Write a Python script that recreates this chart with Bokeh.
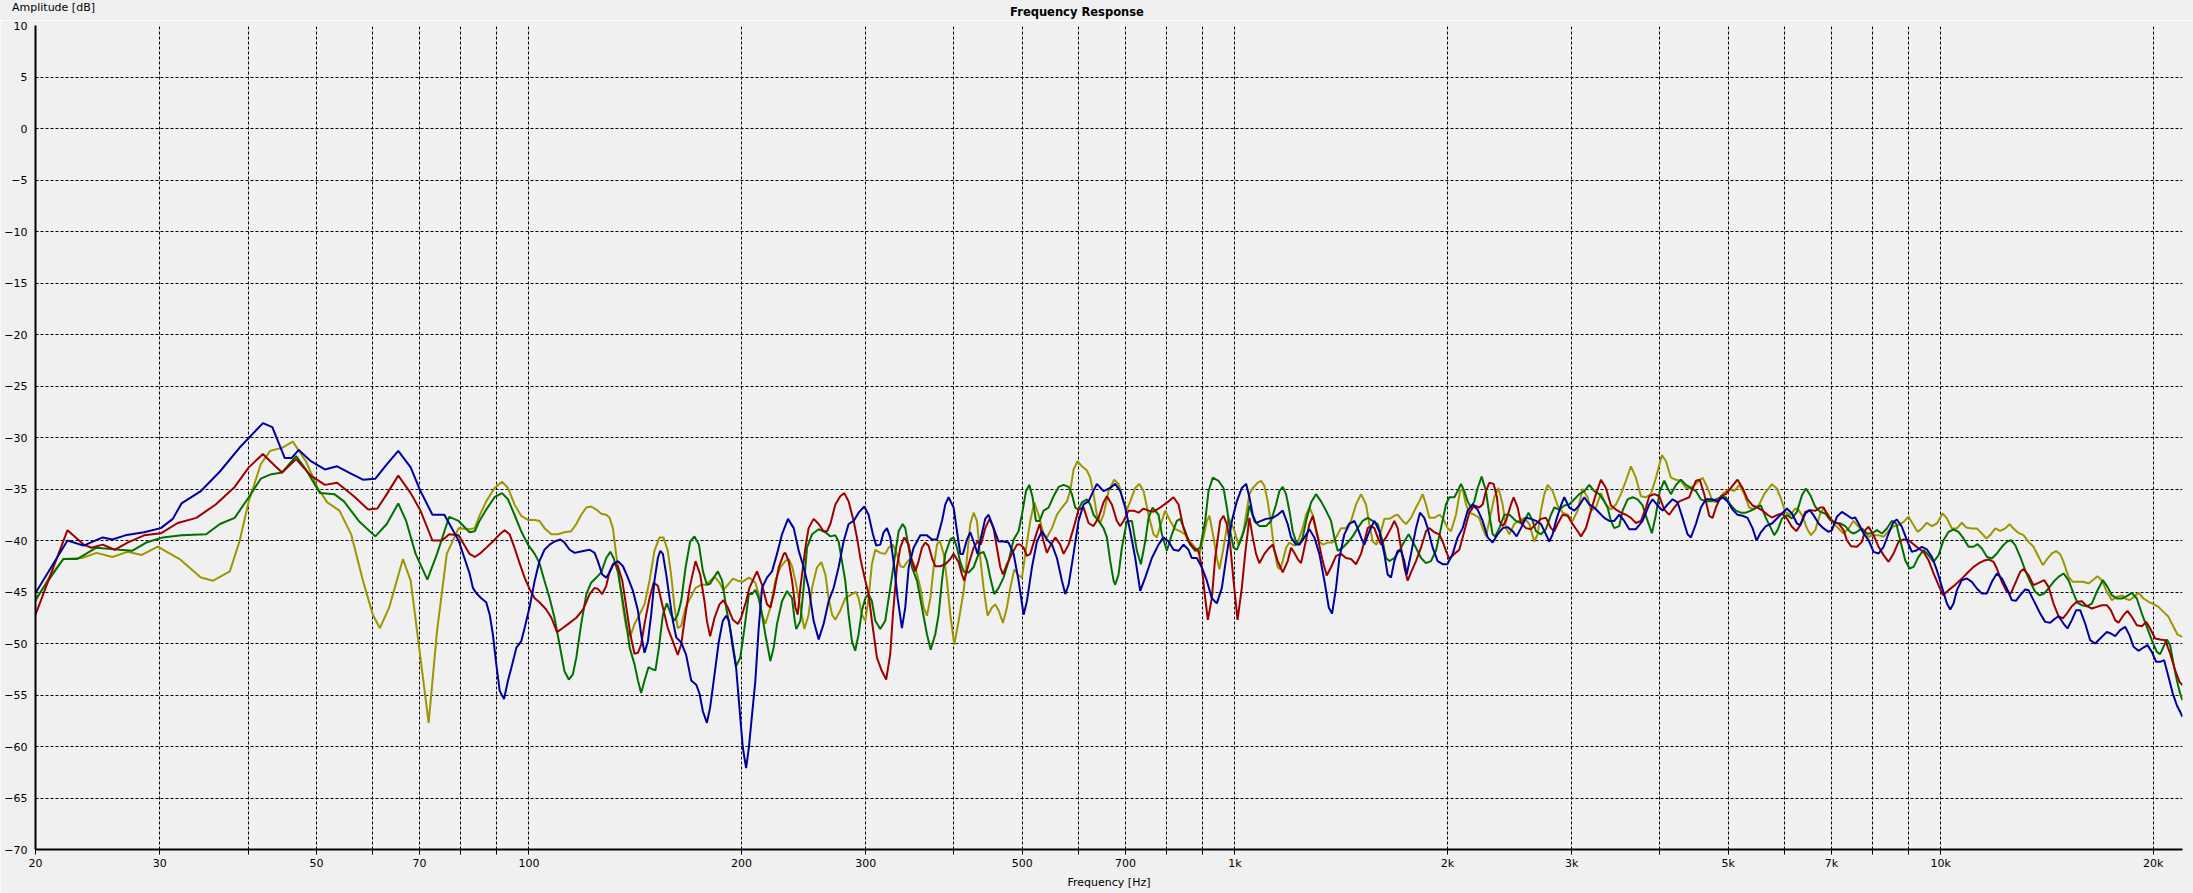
from bokeh.plotting import figure
from bokeh.models import FixedTicker, Div
from bokeh.layouts import column
from bokeh.embed import file_html
from bokeh.resources import INLINE

# ---------------- data: (frequency [Hz], amplitude [dB]) ----------------
blue_pts = [
    (20, -45.1), (22.2, -40.0), (23.4, -40.5), (24.9, -39.7), (25.7, -39.9), (26.8, -39.5), (28.5, -39.2), (30.1, -38.8), (31.3, -37.9), (32.2, -36.4),
    (34.3, -35.2), (36.5, -33.3), (38.9, -31.0), (42.0, -28.6), (43.3, -29.0), (45.1, -32.0), (46.1, -32.0), (47.2, -31.2), (49.1, -32.3), (51.4, -33.1),
    (53.5, -32.8), (55.6, -33.4), (58.2, -34.1), (60.6, -34.0), (62.9, -32.6), (65.3, -31.3), (68.0, -32.9), (70.2, -35.2), (73.0, -37.5), (75.9, -37.5),
    (79.5, -40.0),
    (82.4, -43.2), (83.3, -44.6), (84.2, -45.1), (85.6, -45.6), (87.0, -46.0), (88.0, -47.2), (88.9, -49.1), (89.9, -52.0), (90.9, -54.6), (92.2, -55.4),
    (93.4, -53.6), (94.4, -52.4), (96.0, -50.4), (97.5, -49.8), (98.6, -48.5), (100.2, -46.5), (101.9, -43.9), (103.5, -42.0), (105.2, -40.9), (107.0, -40.4),
    (108.7, -40.1), (110.8, -39.9), (112.3, -40.2), (114.2, -40.9), (116.1, -41.2), (118.0, -41.1), (119.9, -41.0), (121.9, -40.9), (123.9, -41.2), (125.2, -42.0),
    (127.0, -43.3), (128.7, -43.6), (130.1, -43.1), (131.8, -42.3), (133.7, -42.0), (135.9, -42.5), (138.1, -43.6), (140.4, -44.9), (142.7, -46.8), (144.2, -49.1),
    (145.8, -50.9), (147.4, -49.8), (149.0, -47.2), (150.6, -43.9), (152.3, -41.7), (153.5, -41.0), (154.8, -41.3), (156.5, -43.3), (158.2, -45.6), (159.9, -47.8),
    (161.7, -49.4), (164.3, -49.9), (167.0, -51.1), (169.8, -53.6), (172.6, -54.0), (174.5, -54.9), (176.4, -56.6), (178.7, -57.7), (180.6, -56.2), (183.2, -53.0),
    (185.8, -49.8), (188.2, -47.8), (190.3, -47.3), (192.0, -47.8), (194.5, -50.4), (196.6, -52.4), (198.7, -56.2), (200.9, -60.1), (203.1, -62.1), (204.9, -60.1),
    (209.3, -53.6), (211.6, -48.5), (213.9, -44.6), (217.4, -43.6), (221.0, -43.0), (224.6, -41.3), (228.3, -39.4), (232.8, -37.9), (237.2, -38.8), (241.1, -41.0),
    (245.0, -42.6), (249.1, -44.6), (253.1, -47.8), (257.3, -49.6), (261.5, -48.1), (265.8, -45.9), (270.2, -44.6), (274.6, -42.6), (279.1, -40.1), (283.7, -38.4),
    (288.4, -38.1), (293.1, -37.3), (298.6, -36.7), (302.8, -37.5), (307.1, -39.4), (310.5, -40.5), (314.6, -40.4), (318.0, -39.2), (321.5, -38.8), (325.0, -39.7),
    (329.3, -42.6), (332.9, -45.6), (337.6, -48.5), (341.3, -46.5), (345.1, -42.6), (350.7, -40.7), (358.5, -39.5), (366.3, -39.5), (372.4, -39.9), (378.5, -39.9),
    (384.7, -38.1), (388.9, -36.5), (393.1, -35.8), (399.6, -36.8), (404.0, -39.1), (408.4, -41.3), (412.0, -41.3), (417.4, -39.9), (421.9, -39.2), (426.5, -40.1),
    (432.1, -41.3), (436.8, -39.7), (443.0, -37.9), (447.9, -37.5), (455.2, -38.8), (462.8, -40.1), (470.3, -40.1), (478.1, -40.2), (486.0, -41.3), (493.9, -43.9),
    (502.1, -47.2), (507.5, -45.9), (515.9, -42.6), (524.4, -40.1), (533.0, -39.1), (541.8, -39.9), (550.7, -40.4), (559.7, -41.7), (568.9, -43.9), (575.2, -45.2),
    (581.4, -44.3), (590.9, -41.3), (600.6, -38.1), (610.5, -36.5), (620.5, -36.2), (627.3, -35.5), (637.6, -34.5), (651.6, -35.2), (666.0, -34.9), (677.0, -34.5),
    (688.1, -35.2), (699.4, -36.8), (710.9, -39.1), (722.6, -41.7), (734.4, -44.9), (746.5, -43.6), (762.9, -41.7), (779.6, -40.4), (792.5, -39.7), (805.5, -40.1),
    (818.7, -40.9), (832.2, -41.0), (845.8, -40.4), (859.7, -40.9), (869.1, -41.7), (883.5, -41.7), (897.9, -42.6), (912.7, -43.9), (927.7, -45.6), (943.0, -46.1),
    (958.5, -44.6), (974.2, -41.3), (990.3, -38.1), (1006.5, -36.2), (1023.0, -34.9), (1037.5, -34.5),
    (1048.6, -35.8), (1060.1, -37.5), (1071.6, -38.3), (1089.3, -38.1), (1107.2, -37.9), (1131.6, -37.8), (1150.1, -37.5), (1169.0, -37.1), (1188.2, -38.4), (1201.2, -39.7),
    (1221.0, -40.4), (1234.3, -40.4), (1254.6, -39.7), (1275.3, -38.9), (1296.2, -39.7), (1317.4, -41.3), (1339.1, -43.9), (1358.5, -46.5), (1373.2, -47.1), (1391.1, -44.6),
    (1406.3, -41.7), (1429.4, -39.4), (1452.8, -38.4), (1476.7, -38.1), (1492.8, -38.8), (1509.1, -39.7), (1525.6, -40.4), (1550.7, -39.1), (1576.3, -38.1), (1602.1, -39.1),
    (1628.4, -41.3), (1646.2, -43.3), (1664.2, -43.6), (1682.4, -42.0), (1700.8, -41.0), (1719.4, -41.0), (1738.1, -42.0), (1751.6, -43.3), (1776.4, -41.3), (1805.5, -38.8),
    (1829.2, -37.3), (1855.2, -37.8), (1875.5, -38.8), (1906.4, -40.7), (1937.7, -42.0), (1969.6, -42.3), (2000, -42.3), (2034.9, -41.3), (2068.4, -39.7), (2102.4, -38.8),
    (2136.9, -37.1), (2172.1, -36.5), (2207.7, -37.0), (2244, -38.1), (2280.9, -39.7), (2318.4, -40.2), (2356.5, -39.4), (2395.2, -38.8), (2434.7, -38.7), (2474.7, -39.1),
    (2507.1, -39.6), (2542.7, -38.8), (2584.5, -37.8), (2627.0, -37.9), (2670.2, -38.1), (2714.2, -38.4), (2758.8, -39.4), (2788.9, -40.1), (2819.4, -39.4), (2850.2, -38.1),
    (2897.1, -36.6), (2928.7, -35.8), (2976.9, -36.8), (3026.0, -37.1), (3075.6, -36.6), (3125.9, -35.8), (3177.3, -36.5), (3229.6, -36.8), (3282.7, -37.3), (3336.6, -37.8),
    (3391.6, -38.1), (3447.3, -38.1), (3503.9, -37.5), (3561.5, -38.1), (3620.0, -38.9), (3699.6, -38.9), (3781.1, -38.1), (3864, -36.5), (3906.2, -36.0), (3970.5, -36.6),
    (4035.7, -37.1), (4102.0, -36.5), (4169.6, -36.0), (4238.0, -36.3), (4307.6, -37.8), (4378.4, -39.4), (4426.3, -39.7), (4499.0, -38.4), (4573.0, -36.8), (4648.3, -36.0),
    (4750.4, -36.0), (4828.2, -36.2), (4907.5, -35.8), (4988.2, -36.2), (5070.2, -37.0), (5153.5, -37.5), (5238.5, -37.6), (5324.4, -37.8), (5412.1, -38.8), (5483.3, -40.0),
    (5561.2, -39.2), (5652.7, -38.6),
    (5765, -38.35), (5860, -37.86), (5957, -37.38), (6054, -36.89), (6154, -37.38), (6256, -38.35), (6324, -38.51), (6428, -37.38), (6520, -37.05), (6605, -37.54),
    (6713, -38.35), (6823, -38.83), (6935, -39.16), (7011, -38.99), (7126, -37.70), (7243, -37.22), (7363, -37.54), (7483, -37.86), (7565, -37.77), (7648, -38.35),
    (7774, -39.32), (7902, -39.97), (8032, -41.10), (8164, -41.26), (8298, -40.61), (8435, -39.32), (8573, -38.19), (8666, -37.96), (8809, -38.67), (8954, -39.97),
    (9101, -41.10), (9251, -40.94), (9403, -40.61), (9557, -40.87), (9714, -41.58), (9874, -42.88), (10036, -44.50), (10202, -46.12), (10313, -46.70), (10426, -46.12),
    (10539, -44.82), (10712, -43.85), (10888, -43.69), (11067, -44.01), (11249, -44.66), (11435, -45.14), (11622, -45.14), (11813, -44.01), (12007, -43.20), (12205, -43.69),
    (12405, -44.66), (12609, -45.79), (12775, -45.86), (12957, -45.31), (13169, -44.76), (13313, -44.82), (13532, -45.79), (13830, -47.09), (14057, -47.90), (14289, -47.99),
    (14523, -47.57), (14682, -47.35), (14923, -48.06), (15116, -48.54), (15334, -47.73), (15553, -46.76), (15757, -46.76), (16016, -48.06), (16279, -49.68), (16547, -50.00),
    (16819, -49.51), (17188, -48.87), (17414, -49.03), (17663, -49.29), (17952, -48.70), (18247, -48.38), (18506, -49.19), (18750, -50.32), (19058, -50.71), (19371, -50.39),
    (19625, -50.16), (19905, -50.81), (20188, -51.78), (20452, -51.78), (20721, -51.62), (21016, -53.24), (21314, -54.85), (21595, -55.99), (21831, -56.63), (21997, -57.12),
]

red_pts = [
    (20, -47.2), (21.2, -42.6), (22.2, -39.0), (23.4, -40.4), (24.0, -40.7), (24.9, -40.4), (25.9, -40.9), (27.0, -40.2), (28.5, -39.5), (30.1, -39.3),
    (31.8, -38.3), (33.8, -37.8), (36.0, -36.5), (38.3, -34.8), (40.1, -32.9), (42.0, -31.6), (43.0, -32.3), (44.7, -33.4), (46.8, -32.1), (49.1, -33.7),
    (51.4, -34.6), (53.5, -34.4), (56.5, -35.7), (59.2, -37.0), (61.0, -36.9), (62.9, -35.5), (65.3, -33.7), (68.0, -35.4), (70.2, -37.1), (73.0, -40.0),
    (75.3, -40.0), (77.1, -39.4), (79.5, -39.5),
    (82.4, -41.3), (83.8, -41.6), (85.1, -41.3), (87.0, -40.7), (88.9, -40.1), (90.9, -39.4), (92.4, -39.0), (93.9, -39.4), (95.4, -40.7), (97.0, -42.2),
    (98.6, -43.6), (100.2, -44.7), (101.9, -45.6), (103.5, -46.0), (105.8, -46.7), (107.6, -47.5), (109.6, -48.9), (111.7, -48.5), (114.2, -48.0), (116.7, -47.5),
    (119.3, -46.7), (121.9, -45.2), (123.9, -44.6), (125.2, -44.7), (127.0, -45.2), (128.7, -44.4), (130.1, -43.0), (131.8, -42.2), (133.7, -42.5), (135.6, -43.9),
    (137.4, -46.5), (139.2, -49.1), (141.1, -51.0), (142.7, -50.9), (144.2, -50.1), (145.8, -48.1), (148.2, -45.6), (150.2, -44.1), (152.3, -44.4), (154.8, -46.5),
    (157.3, -48.5), (159.9, -49.8), (162.5, -51.1), (164.3, -50.1), (166.1, -47.8), (168.9, -44.6), (172.2, -42.0), (174.8, -43.3), (177.3, -45.9), (178.7, -47.8),
    (180.6, -49.3), (183.2, -47.5), (186.2, -46.2), (188.6, -45.8), (191.3, -46.5), (194.5, -47.7), (197.7, -48.1), (199.8, -47.5), (203.1, -45.9), (205.3, -44.6),
    (210.4, -43.0), (213.9, -44.3), (217.4, -46.2), (219.8, -46.5), (222.2, -45.2), (225.9, -42.6), (229.6, -41.3),
    (230.8, -41.2), (233.3, -42.0), (235.9, -43.9), (238.5, -46.5), (240.3, -47.2), (242.4, -44.6), (246.4, -40.7), (249.0, -38.8), (253.1, -37.9), (257.3, -38.4),
    (261.5, -39.1), (264.4, -39.1), (267.3, -38.4), (271.7, -36.5), (276.1, -35.7), (279.7, -35.4), (283.7, -36.2), (288.4, -38.1), (291.5, -39.7), (295.3, -42.0),
    (299.6, -43.9), (302.8, -45.2), (306.1, -47.8), (311.2, -51.4), (316.3, -52.7), (320.7, -53.5), (325.0, -51.0), (327.8, -47.2), (329.3, -45.6), (332.1, -42.6),
    (335.8, -40.7), (340.2, -39.7), (345.1, -40.4), (348.8, -42.0), (352.7, -43.0), (356.5, -42.0), (360.4, -40.7), (364.3, -40.2), (368.3, -40.5), (372.4, -41.7),
    (376.4, -42.5), (382.6, -42.5), (388.9, -42.3), (395.3, -41.8), (399.6, -41.3), (406.2, -42.1), (410.6, -43.3), (413.7, -43.9), (419.6, -42.3), (426.5, -40.7),
    (432.1, -40.1), (436.8, -40.4), (443.0, -38.8), (449.3, -37.9), (455.2, -38.8), (460.2, -40.7), (465.3, -42.6), (469.3, -43.3), (475.5, -42.3), (483.3, -41.3),
    (491.3, -40.4), (496.6, -40.4), (502.1, -40.7), (507.5, -41.5), (513.1, -41.3), (521.5, -39.7), (529.0, -38.4), (535.9, -40.1), (541.8, -41.2), (547.7, -40.5),
    (556.7, -39.7), (565.8, -40.4), (572.0, -41.3), (581.4, -40.4), (590.9, -38.8), (600.6, -37.0), (610.5, -36.8), (620.5, -38.3), (630.7, -38.6), (641.1, -37.8),
    (651.6, -36.3), (658.8, -35.7), (669.6, -36.5), (680.6, -38.1), (688.1, -38.6), (695.6, -38.1), (707.0, -37.1), (718.7, -37.1), (730.5, -37.3), (742.4, -36.9),
    (754.6, -37.1), (767.0, -37.2), (783.9, -36.8), (805.5, -36.2), (818.7, -35.8), (832.2, -36.5), (845.8, -38.8), (859.7, -40.1), (873.9, -40.7), (888.3, -41.0),
    (897.9, -42.6), (907.8, -45.6), (915.7, -47.7), (927.7, -45.6), (937.8, -41.7), (953.3, -38.1), (963.7, -37.6), (974.2, -38.4), (984.9, -40.4), (995.7, -43.9),
    (1008.8, -47.7), (1023.0, -44.6), (1034.2, -41.3),
    (1048.6, -37.8), (1060.1, -39.7), (1071.6, -41.3), (1083.4, -42.2), (1101.2, -41.3), (1119.3, -40.7), (1131.6, -40.4), (1150.1, -42.0), (1169.0, -43.1), (1188.2, -42.0),
    (1201.2, -40.7), (1214.3, -41.2), (1227.6, -41.8), (1241.0, -42.2), (1254.6, -40.7), (1275.3, -38.4), (1289.2, -37.6), (1310.3, -39.7), (1331.8, -42.0), (1349.5, -43.4),
    (1368.5, -42.6), (1391.1, -41.5), (1414.0, -41.3), (1437.2, -41.7), (1460.7, -41.8), (1484.7, -42.3), (1509.1, -41.3), (1525.6, -40.1), (1542.3, -38.8), (1559.1, -38.6),
    (1576.3, -38.8), (1593.4, -39.7), (1610.9, -40.4), (1637.3, -39.7), (1664.2, -38.8), (1682.4, -38.1), (1700.8, -38.8), (1719.4, -40.7), (1738.1, -42.6), (1757.3, -43.9),
    (1776.4, -43.1), (1805.5, -42.0), (1835.2, -40.7), (1865.4, -39.1), (1885.7, -38.8), (1916.7, -39.2), (1948.3, -39.4), (1969.6, -40.1), (1991.1, -41.0), (2012.9, -41.8),
    (2046.0, -41.3), (2079.6, -40.9), (2113.8, -39.1), (2148.6, -37.3), (2184.0, -36.6), (2219.8, -36.8), (2244, -36.5), (2268.5, -35.2), (2293.3, -34.4), (2325.7, -34.5),
    (2351.1, -35.8), (2369.3, -38.1), (2395.2, -38.6), (2421.5, -38.1), (2461.2, -36.5), (2483.0, -35.8), (2515.2, -36.8), (2542.7, -38.3), (2584.5, -38.8), (2627.0, -38.9),
    (2670.2, -38.4), (2714.2, -37.9), (2758.8, -37.8), (2804.1, -38.8), (2834.7, -39.1), (2865.7, -38.4), (2912.8, -37.5), (2960.7, -37.6), (3009.5, -38.4), (3058.9, -39.1),
    (3092.3, -39.6), (3143.0, -38.8), (3194.6, -37.1), (3247.2, -35.5), (3300.5, -34.1), (3354.9, -34.9), (3410.0, -36.6), (3466, -37.0), (3523.0, -37.3), (3580.9, -37.5),
    (3639.8, -37.8), (3699.6, -38.3), (3760.6, -38.1), (3822.3, -36.8), (3864, -35.7), (3927.5, -35.5), (3992.1, -35.7), (4057.7, -37.0), (4124.4, -37.5), (4192.4, -36.8),
    (4261.2, -36.2), (4331.1, -36.0), (4402.3, -35.8), (4499.0, -34.2), (4555.7, -34.1), (4622.9, -35.5), (4699.2, -37.6), (4750.4, -37.8), (4802, -36.8), (4881.0, -35.7),
    (4961.2, -35.5), (5042.8, -34.9), (5153.5, -34.1), (5238.5, -34.9), (5324.4, -36.0), (5412.1, -36.6), (5501.1, -36.8), (5591.5, -37.1), (5683.4, -37.5),
    (5765, -37.77), (5860, -37.54), (5957, -37.38), (6054, -37.86), (6154, -38.67), (6242, -39.09), (6324, -38.51), (6428, -37.22), (6534, -37.05), (6641, -37.12),
    (6750, -36.80), (6823, -36.80), (6935, -37.70), (7049, -38.19), (7165, -38.35), (7283, -38.99), (7363, -39.97), (7461, -40.55), (7607, -40.61), (7732, -40.13),
    (7817, -38.99), (7902, -38.67), (8032, -39.48), (8164, -40.61), (8298, -41.42), (8435, -42.07), (8573, -41.26), (8714, -40.13), (8857, -39.90), (9002, -39.97),
    (9151, -40.36), (9301, -40.78), (9454, -41.10), (9609, -41.91), (9767, -43.20), (9928, -44.34), (10069, -45.31), (10258, -44.82), (10426, -44.43), (10596, -44.01),
    (10771, -43.53), (10948, -43.04), (11128, -42.56), (11310, -42.23), (11497, -41.97), (11686, -41.84), (11877, -42.07), (12007, -42.72), (12205, -44.01), (12405, -44.98),
    (12568, -45.14), (12748, -44.17), (12957, -43.04), (13098, -42.78), (13313, -43.36), (13532, -44.34), (13755, -44.11), (14011, -43.85), (14211, -44.50), (14445, -46.12),
    (14682, -47.35), (14890, -47.57), (15086, -47.09), (15334, -46.38), (15586, -45.95), (15843, -45.89), (16103, -46.38), (16368, -46.60), (16637, -46.44), (16910, -46.28),
    (17188, -46.28), (17414, -46.76), (17663, -47.73), (17855, -47.99), (18148, -47.25), (18386, -46.83), (18648, -47.41), (18955, -48.22), (19266, -48.32), (19540, -47.90),
    (19798, -48.54), (20123, -49.51), (20452, -49.61), (20788, -49.68), (21130, -50.97), (21477, -52.59), (21783, -53.72), (21997, -54.04),
]

green_pts = [
    (20, -45.7), (21.9, -41.8), (22.9, -41.8), (24.4, -40.7), (26.3, -40.9), (27.4, -41.0), (28.7, -40.2), (30.3, -39.7), (32.2, -39.5), (34.9, -39.4),
    (36.5, -38.4), (38.3, -37.8), (40.1, -35.8), (41.7, -34.0), (43.0, -33.6), (44.7, -33.4), (46.8, -31.8), (48.3, -33.1), (50.6, -35.4), (53.0, -35.5),
    (54.7, -36.2), (57.4, -38.1), (60.6, -39.6), (62.9, -38.4), (65.3, -36.4), (67.0, -38.1), (69.1, -41.3), (71.8, -43.8), (74.1, -41.3), (77.1, -37.7),
    (79.5, -38.1),
    (82.4, -39.2), (83.8, -39.1), (85.1, -38.1), (87.0, -37.0), (89.4, -35.8), (91.6, -35.4), (93.4, -36.0), (95.4, -37.5), (97.5, -39.1), (99.7, -40.4),
    (101.9, -41.3), (103.5, -42.2), (105.2, -43.9), (107.0, -45.6), (108.7, -47.5), (110.5, -50.1), (112.3, -52.7), (113.9, -53.5), (115.4, -53.0), (116.7, -51.4),
    (118.6, -48.1), (120.6, -45.2), (122.5, -44.1), (124.6, -43.6), (126.6, -43.1), (128.7, -41.7), (130.4, -41.1), (131.8, -41.7), (133.7, -43.1), (135.6, -45.6),
    (137.4, -48.1), (138.9, -50.4), (141.1, -52.0), (142.7, -53.6), (144.2, -54.8), (145.8, -53.6), (147.7, -52.3), (149.5, -52.5), (151.1, -52.6), (152.8, -50.4),
    (154.8, -47.2), (156.8, -46.1), (159.0, -47.2), (160.8, -47.8), (162.5, -47.2), (164.3, -45.9), (166.7, -42.6), (169.2, -40.1), (171.6, -39.6), (174.1, -40.4),
    (176.4, -43.0), (178.7, -44.3), (180.6, -44.2), (183.2, -43.5), (185.2, -43.0), (187.8, -43.9), (190.3, -46.5), (193.4, -49.1), (196.6, -52.2), (199.2, -51.4),
    (202.0, -48.5), (204.9, -45.2),
    (207.0, -45.2), (209.3, -44.8), (211.6, -45.6), (213.9, -47.2), (216.2, -49.1), (219.8, -51.7), (222.2, -50.4),
    (224.6, -48.1), (228.3, -45.9), (232.1, -44.9), (235.9, -45.6), (238.0, -47.8), (239.2, -48.6), (242.4, -47.8), (245.0, -44.6), (247.7, -40.7), (251.8, -39.4),
    (257.3, -38.9), (263.0, -39.2), (267.3, -39.6), (271.7, -39.5), (274.6, -40.1), (277.6, -42.0), (280.6, -43.9), (283.7, -47.2), (286.8, -49.8), (289.9, -50.7),
    (293.1, -49.1), (296.3, -46.8), (299.6, -45.6), (302.8, -45.2), (306.1, -45.9), (309.5, -47.8), (314.6, -48.6), (319.7, -47.8), (325.0, -44.6), (330.3, -41.3),
    (334.0, -39.1), (338.4, -38.4), (341.3, -38.8), (345.1, -40.7), (348.8, -42.6), (354.6, -43.9), (360.4, -46.5), (366.3, -49.1), (370.8, -50.6), (376.4, -49.1),
    (380.5, -47.2), (384.7, -43.9), (388.9, -41.3), (395.3, -39.9), (399.6, -39.7), (404.0, -40.7), (408.4, -42.1), (412.9, -43.0), (419.6, -43.1), (426.5, -42.6),
    (433.5, -41.3), (440.6, -41.1), (445.5, -42.0), (450.3, -43.6), (456.2, -45.2), (462.8, -44.6), (470.3, -43.6), (478.1, -42.0), (486.0, -39.9), (493.9, -39.1),
    (499.3, -37.5), (506.0, -35.2), (511.5, -34.6), (517.0, -35.8), (522.7, -38.1), (529.0, -38.1), (535.9, -37.1), (544.7, -36.8), (553.7, -35.7), (562.8, -34.8),
    (572.0, -34.6), (581.4, -34.8), (587.8, -35.5), (594.1, -36.8), (600.6, -37.0), (607.2, -36.3), (617.2, -36.0), (623.9, -36.5), (630.7, -37.5), (641.1, -38.1),
    (651.6, -38.8), (658.8, -39.7), (666.0, -42.0), (673.3, -43.9), (677.0, -44.3), (684.3, -43.3), (691.8, -40.7), (703.2, -38.1), (714.8, -38.1), (726.5, -41.0),
    (736.0, -42.3), (746.5, -40.1), (754.6, -37.8), (764.7, -36.8), (779.6, -37.5), (788.2, -39.4), (801.2, -41.0), (814.3, -39.4), (827.6, -38.1), (836.7, -37.9),
    (850.5, -39.1), (864.4, -40.4), (878.6, -41.0), (893.1, -40.7), (907.8, -38.1), (917.7, -35.2), (930.7, -33.9), (948.1, -34.2), (963.7, -34.9), (974.2, -36.8),
    (984.9, -39.1), (995.7, -40.7), (1006.5, -40.9), (1023.0, -39.7), (1039.9, -38.1),
    (1048.6, -36.6), (1065.8, -38.1), (1083.4, -38.6), (1107.2, -38.6), (1125.4, -38.1), (1143.9, -36.5), (1156.4, -35.2), (1169.0, -34.8), (1181.8, -35.5), (1194.7, -37.1),
    (1207.8, -39.1), (1221.0, -40.1), (1234.3, -40.4), (1247.8, -39.7), (1261.5, -38.1), (1282.2, -36.3), (1303.2, -35.5), (1324.6, -36.2), (1346.4, -37.1), (1368.5, -38.1),
    (1383.5, -39.7), (1398.6, -41.0), (1421.7, -40.7), (1445.0, -40.2), (1468.7, -39.6), (1492.8, -38.8), (1517.4, -38.1), (1542.3, -37.8), (1567.7, -38.1), (1593.4, -38.4),
    (1619.6, -40.1), (1637.3, -41.7), (1655.2, -42.0), (1682.4, -41.7), (1710.1, -41.0), (1738.1, -40.1), (1763.1, -39.4), (1786.1, -40.1), (1805.5, -40.7), (1835.2, -41.7),
    (1865.4, -42.2), (1896.0, -42.0), (1927.2, -41.0), (1959.0, -38.8), (1991.1, -36.5), (2012.9, -35.8), (2046.0, -35.8), (2068.4, -35.2), (2091.0, -34.5), (2113.8, -35.2),
    (2136.9, -36.2), (2160.2, -36.8), (2184.0, -36.2), (2207.7, -34.9), (2236.7, -33.8), (2268.5, -35.2), (2293.3, -37.5), (2318.4, -39.4), (2337.6, -39.6), (2369.3, -38.8),
    (2408.3, -37.5), (2448.0, -37.5), (2474.7, -37.8), (2501.6, -38.1), (2542.7, -38.3), (2584.5, -37.8), (2606.4, -37.3), (2641.3, -38.1), (2670.2, -39.1), (2714.2, -39.4),
    (2758.8, -38.9), (2804.1, -37.5), (2834.7, -36.8), (2881.4, -37.0), (2928.7, -36.6), (2976.9, -36.5), (3026.0, -36.0), (3075.6, -35.5), (3125.9, -35.2), (3177.3, -34.6),
    (3229.6, -35.2), (3282.7, -35.5), (3336.6, -36.2), (3373.3, -36.8), (3410.0, -38.1), (3447.3, -38.8), (3503.9, -38.6), (3542.2, -37.1), (3600.4, -36.0), (3659.6, -35.8),
    (3719.7, -36.0), (3781.1, -36.6), (3843.1, -38.1), (3897.6, -39.3), (3948.9, -37.5), (3998.9, -35.2), (4057.7, -34.2), (4102.0, -34.9), (4146.8, -35.5), (4215.2, -34.6),
    (4284.4, -34.1), (4354.7, -34.6), (4426.3, -34.9), (4499.0, -35.2), (4573.0, -36.0), (4648.3, -36.2), (4724.6, -36.2), (4802, -36.0), (4881.0, -35.8), (4961.2, -35.8),
    (5042.8, -36.6), (5125.7, -37.1), (5210.2, -37.3), (5295.6, -37.3), (5382.8, -37.1), (5471.3, -36.8), (5561.2, -36.6), (5652.7, -37.8),
    (5809, -39.48), (5873, -38.99), (5957, -37.86), (6054, -37.54), (6154, -37.86), (6256, -37.22), (6358, -35.60), (6440, -34.95), (6534, -35.60), (6641, -36.73),
    (6750, -37.22), (6860, -37.38), (6973, -38.02), (7088, -38.28), (7204, -38.35), (7322, -38.61), (7443, -39.16), (7524, -39.32), (7607, -39.16), (7732, -38.83),
    (7859, -39.32), (7988, -39.32), (8120, -38.99), (8254, -39.32), (8389, -38.83), (8526, -38.09), (8647, -38.35), (8761, -39.97), (8905, -41.91), (9032, -42.72),
    (9151, -42.56), (9301, -41.58), (9454, -40.94), (9609, -41.42), (9767, -42.07), (9928, -41.42), (10091, -39.97), (10258, -39.16), (10426, -38.93), (10596, -39.16),
    (10771, -39.80), (10948, -40.61), (11128, -40.61), (11273, -40.36), (11435, -40.78), (11622, -41.58), (11813, -41.75), (12007, -41.26), (12205, -40.61), (12405, -40.13),
    (12568, -39.97), (12748, -40.45), (12957, -41.58), (13169, -42.88), (13386, -44.01), (13606, -44.98), (13799, -45.31), (14011, -45.14), (14211, -44.66), (14445, -44.01),
    (14682, -43.53), (14923, -43.20), (15168, -43.85), (15418, -45.14), (15620, -46.05), (15843, -46.28), (16103, -46.38), (16368, -46.12), (16637, -44.98), (16966, -43.85),
    (17226, -44.50), (17471, -45.31), (17759, -45.63), (18050, -45.63), (18346, -45.40), (18648, -45.08), (18955, -45.63), (19266, -47.09), (19584, -48.38), (19905, -49.68),
    (20231, -50.81), (20452, -51.03), (20676, -50.32), (20902, -49.61), (21130, -50.16), (21361, -51.94), (21595, -53.56), (21831, -54.85), (21997, -55.50),
]

olive_pts = [
    (20, -45.9), (20.9, -43.6), (21.9, -41.8), (23.3, -41.7), (24.4, -41.2), (25.7, -41.6), (27.0, -41.1), (28.3, -41.4), (29.8, -40.6), (32.0, -41.8),
    (34.3, -43.6), (35.7, -43.9), (37.7, -43.0), (38.9, -40.1), (40.1, -36.2), (41.7, -32.6), (43.0, -31.3), (44.7, -31.0), (46.3, -30.4), (48.3, -32.3),
    (50.2, -34.9), (51.8, -36.3), (53.9, -37.1), (56.0, -39.4), (58.2, -43.9), (60.1, -47.2), (61.5, -48.5), (63.4, -46.5), (66.3, -41.8), (68.0, -43.9),
    (70.2, -51.4), (72.1, -57.7), (74.1, -48.8), (76.5, -41.3), (79.5, -38.8),
    (82.4, -38.9), (83.8, -38.8), (85.1, -37.6), (87.0, -36.2), (89.4, -34.9), (91.6, -34.3), (93.4, -34.9), (95.4, -36.5), (97.5, -37.6), (99.7, -38.0),
    (101.9, -38.0), (103.5, -38.1), (105.2, -38.8), (107.6, -39.4), (109.9, -39.4), (112.3, -39.2), (114.8, -39.1), (116.7, -38.4), (118.6, -37.5), (120.6, -36.8),
    (122.5, -36.7), (124.6, -37.0), (126.6, -37.4), (128.7, -37.5), (130.1, -37.8), (131.5, -38.8), (132.9, -41.3), (134.4, -43.9), (135.9, -46.5), (137.4, -48.5),
    (139.2, -49.3), (141.1, -48.1), (143.4, -47.2), (145.8, -46.2), (148.2, -43.9), (150.6, -41.0), (153.1, -39.7), (155.1, -39.7), (157.3, -41.0), (159.0, -43.3),
    (160.8, -46.5), (162.5, -48.5), (164.3, -48.3), (166.7, -46.5), (169.2, -45.6), (172.2, -44.6), (175.4, -44.3), (178.3, -44.3), (180.6, -43.9), (183.2, -43.5),
    (186.2, -44.1), (188.6, -44.8), (191.3, -44.3), (194.5, -43.7), (197.7, -43.9), (200.9, -44.0), (204.9, -43.6),
    (207.0, -43.8), (209.3, -44.1), (211.6, -45.2), (213.9, -47.2), (216.2, -48.1), (219.8, -46.5), (223.4, -43.9), (227.1, -42.6),
    (230.8, -42.0), (233.3, -41.8), (235.9, -42.5), (238.5, -43.9), (242.4, -46.5), (245.6, -48.6), (249.0, -47.2), (251.8, -44.6), (255.9, -42.6), (259.6, -42.1),
    (263.0, -43.3), (265.8, -45.6), (268.8, -47.2), (271.7, -47.7), (276.1, -46.8), (280.6, -45.6), (286.8, -45.2), (290.6, -45.0), (293.1, -45.6), (296.3, -47.2),
    (299.6, -47.8), (302.8, -45.6), (306.1, -42.3), (309.5, -40.9), (314.6, -41.2), (319.7, -41.3), (323.2, -40.7), (327.8, -40.4), (332.1, -41.3), (335.8, -42.5),
    (339.4, -42.6), (343.2, -42.1), (347.7, -41.7), (352.7, -42.6), (358.5, -44.6), (362.4, -46.5), (366.3, -47.3), (370.4, -45.6), (374.4, -42.6), (378.5, -40.4),
    (381.8, -40.0), (386.8, -41.3), (391.0, -43.9), (395.3, -47.2), (400.4, -50.1), (406.2, -47.8), (412.9, -44.9), (417.4, -41.7), (421.9, -38.4), (426.5, -37.3),
    (431.2, -38.1), (435.9, -41.7), (440.6, -44.6), (446.4, -47.3), (452.8, -46.5), (457.7, -46.2), (462.8, -46.8), (469.3, -48.0), (475.5, -46.5), (480.7, -44.6),
    (487.0, -42.8), (493.9, -43.4), (499.3, -43.6), (504.8, -41.3), (513.1, -38.1), (519.9, -36.3), (527.2, -37.5), (535.9, -39.4), (541.8, -39.7), (550.7, -38.8),
    (559.7, -37.5), (568.9, -36.8), (578.3, -36.2), (584.6, -35.2), (590.9, -33.1), (598.7, -32.3), (607.2, -32.8), (617.2, -33.2), (623.9, -33.9), (630.7, -35.5),
    (637.6, -37.5), (644.6, -38.3), (651.6, -37.5), (662.4, -35.2), (674.7, -34.1), (684.3, -34.5), (695.6, -36.2), (703.2, -37.0), (710.9, -36.2), (722.6, -34.9),
    (732.1, -34.5), (742.4, -35.2), (754.6, -37.5), (767.0, -39.4), (775.4, -39.7), (785.6, -38.4), (796.8, -37.1), (809.9, -38.1), (823.2, -38.9), (836.7, -39.1),
    (850.5, -39.4), (864.4, -40.1), (878.6, -40.7), (891.2, -41.3), (902.9, -39.7), (912.7, -38.1), (920.6, -37.6), (932.8, -39.7), (943.0, -41.7), (951.0, -42.8),
    (963.7, -40.7), (979.5, -37.8), (995.7, -38.8), (1012.0, -40.4), (1028.6, -39.1),
    (1048.6, -35.5), (1060.1, -34.9), (1077.5, -34.4), (1089.3, -34.2), (1101.2, -34.7), (1113.2, -36.2), (1125.4, -38.4), (1137.7, -41.0), (1150.1, -42.6), (1158.7, -42.8),
    (1169.0, -42.0), (1181.8, -40.7), (1194.7, -40.2), (1214.3, -40.5), (1227.6, -40.2), (1247.8, -38.8), (1261.5, -37.5), (1275.3, -36.8), (1289.2, -37.5), (1303.2, -38.8),
    (1317.4, -40.1), (1331.8, -40.4), (1353.7, -40.2), (1376.0, -40.2), (1391.1, -39.7), (1414.0, -38.8), (1437.2, -38.8), (1460.7, -38.1), (1484.7, -36.5), (1509.1, -35.5),
    (1534.0, -36.5), (1550.7, -38.4), (1567.7, -40.1), (1586.9, -40.4), (1610.9, -39.1), (1628.4, -37.9), (1655.2, -37.9), (1682.4, -37.6), (1700.8, -37.5), (1728.8, -38.1),
    (1747.7, -38.4), (1776.4, -37.8), (1805.5, -36.8), (1825.2, -36.2), (1845.2, -35.5), (1865.4, -36.5), (1885.7, -37.8), (1916.7, -37.8), (1948.3, -37.5), (1969.6, -37.8),
    (2002, -38.8), (2023.9, -39.1), (2057.1, -37.5), (2084.1, -35.2), (2102.4, -35.0), (2125.3, -36.5), (2148.6, -37.3), (2184.0, -37.5), (2219.8, -37.8), (2244.0, -38.8),
    (2268.5, -39.6), (2293.3, -38.1), (2331.0, -35.8), (2363.2, -34.9), (2395.2, -36.5), (2421.5, -38.8), (2448.0, -39.4), (2488.1, -38.4), (2528.9, -38.1), (2570.5, -37.8),
    (2612.8, -38.4), (2655.7, -40.1), (2684.7, -39.4), (2714.2, -37.1), (2743.8, -35.5), (2773.8, -34.6), (2819.4, -35.2), (2865.7, -36.6), (2912.8, -37.3), (2960.7, -37.5),
    (3009.5, -38.1), (3058.9, -37.1), (3109.0, -35.0), (3160.1, -35.8), (3194.6, -37.1), (3247.2, -36.8), (3300.5, -35.4), (3354.9, -36.5), (3410.0, -37.0), (3466, -36.5),
    (3523.0, -35.5), (3580.9, -34.2), (3639.8, -32.8), (3699.6, -33.9), (3760.6, -35.7), (3822.3, -35.8), (3885.1, -35.5), (3948.9, -33.9), (4026.7, -31.7), (4081, -32.3),
    (4146.8, -33.9), (4215.2, -34.1), (4284.4, -34.2), (4354.7, -34.9), (4426.3, -34.9), (4499.0, -34.5), (4597.9, -33.9), (4673.8, -34.9), (4750.4, -36.2), (4828.2, -36.3),
    (4907.5, -35.5), (5015.4, -35.0), (5097.8, -35.2), (5181.8, -34.6), (5266.8, -35.5), (5353.6, -36.8), (5441.6, -37.0), (5531.1, -36.5), (5622.0, -35.5),
    (5765, -34.53), (5860, -34.95), (5937, -35.92), (6021, -37.22), (6121, -37.54), (6222, -36.89), (6290, -37.05), (6358, -37.54), (6463, -38.83), (6548, -39.48),
    (6641, -38.99), (6750, -37.38), (6823, -36.89), (6935, -37.54), (7049, -38.35), (7165, -38.83), (7283, -39.32), (7403, -38.83), (7524, -38.09), (7648, -38.67),
    (7774, -39.16), (7902, -39.64), (8032, -39.48), (8164, -39.48), (8298, -39.64), (8435, -39.06), (8573, -38.61), (8714, -38.51), (8857, -38.19), (9002, -37.70),
    (9151, -38.51), (9271, -39.16), (9403, -38.83), (9557, -38.28), (9714, -38.61), (9874, -38.35), (10059, -37.38), (10202, -37.86), (10369, -38.83), (10539, -38.83),
    (10712, -38.28), (10865, -38.74), (11067, -38.83), (11249, -38.83), (11435, -39.32), (11597, -39.80), (11749, -39.48), (11942, -38.83), (12138, -39.06), (12338, -38.83),
    (12514, -38.41), (12678, -38.83), (12886, -39.26), (13098, -39.48), (13313, -40.13), (13532, -40.61), (13755, -41.58), (13951, -42.39), (14134, -41.84), (14366, -41.26),
    (14571, -41.03), (14762, -41.33), (14923, -42.07), (15168, -43.53), (15384, -44.01), (15671, -44.01), (15929, -44.01), (16191, -44.17), (16457, -43.79), (16673, -43.46),
    (16910, -43.85), (17188, -44.98), (17471, -45.79), (17759, -45.47), (18109, -45.34), (18247, -45.63), (18506, -45.79), (18790, -45.47), (19058, -45.08), (19371, -45.63),
    (19691, -45.95), (20014, -46.18), (20341, -46.44), (20676, -46.93), (21016, -47.41), (21361, -48.38), (21642, -49.13), (21997, -49.35),
]

series_colors = {"olive": "#9C9600", "green": "#007000", "red": "#9C0000", "blue": "#00009C"}
series_points = {"olive": olive_pts, "green": green_pts, "red": red_pts, "blue": blue_pts}

x_grid = [20, 30, 40, 50, 60, 70, 80, 90, 100, 200, 300, 400, 500, 600, 700, 800, 900,
          1000, 2000, 3000, 4000, 5000, 6000, 7000, 8000, 9000, 10000, 20000]
x_labels = {20: "20", 30: "30", 50: "50", 70: "70", 100: "100", 200: "200", 300: "300", 500: "500",
            700: "700", 1000: "1k", 2000: "2k", 3000: "3k", 5000: "5k", 7000: "7k", 10000: "10k", 20000: "20k"}
y_ticks = [-70, -65, -60, -55, -50, -45, -40, -35, -30, -25, -20, -15, -10, -5, 0, 5, 10]

chart_title = "Frequency Response"
y_title = "Amplitude [dB]"
x_title = "Frequency [Hz]"

BG = "#F0F0F0"
FONT = "DejaVu Sans"
W = 2193
HEADER_H = 20

# header strip with the chart title and the y-axis caption (outside the plot frame)
header_html = (
    '<div style="position:relative;width:' + str(W) + 'px;height:' + str(HEADER_H) + 'px;'
    'font-family:\'DejaVu Sans\',sans-serif;color:#000;">'
    '<span style="position:absolute;left:12px;top:1px;font-size:11px;line-height:13px;white-space:nowrap;">'
    + y_title + '</span>'
    '<span style="position:absolute;left:1077px;top:6px;transform:translateX(-50%);font-size:11.5px;'
    'font-weight:bold;line-height:13px;white-space:nowrap;">' + chart_title + '</span></div>'
)
header = Div(text=header_html, width=W, height=HEADER_H, margin=(0, 0, 0, 0),
             styles={"background-color": BG, "overflow": "visible"})

p = figure(width=W, height=893 - HEADER_H, x_axis_type="log", x_range=(20, 22000), y_range=(-70, 10),
           output_backend="svg", toolbar_location=None,
           min_border_left=35, min_border_right=11, min_border_top=25 - HEADER_H, min_border_bottom=44,
           background_fill_color=BG, border_fill_color=BG)
p.outline_line_color = None

# grids
p.xgrid.ticker = FixedTicker(ticks=x_grid)
p.ygrid.ticker = FixedTicker(ticks=y_ticks)
for g in (p.xgrid, p.ygrid):
    g.grid_line_color = "black"
    g.grid_line_dash = "3 2"
    g.grid_line_width = 1
    g.grid_line_alpha = 1.0

# x axis
p.xaxis.ticker = FixedTicker(ticks=x_grid, minor_ticks=[])
p.xaxis.major_label_overrides = {t: x_labels.get(t, "") for t in x_grid}
p.xaxis.axis_line_width = 2
p.xaxis.axis_line_color = "black"
p.xaxis.major_tick_out = 5
p.xaxis.major_tick_in = 0
p.xaxis.minor_tick_out = 0
p.xaxis.minor_tick_in = 0
p.xaxis.major_tick_line_color = "black"
p.xaxis.major_label_standoff = 2
p.xaxis.major_label_text_font = FONT
p.xaxis.major_label_text_font_size = "11px"
p.xaxis.major_label_text_color = "black"
p.xaxis.axis_label = x_title
p.xaxis.axis_label_text_font = FONT
p.xaxis.axis_label_text_font_size = "11px"
p.xaxis.axis_label_text_font_style = "normal"
p.xaxis.axis_label_text_color = "black"
p.xaxis.axis_label_standoff = 3

# y axis
p.yaxis.ticker = FixedTicker(ticks=y_ticks, minor_ticks=[])
p.yaxis.axis_line_width = 2
p.yaxis.axis_line_color = "black"
p.yaxis.major_tick_out = 0
p.yaxis.major_tick_in = 0
p.yaxis.minor_tick_out = 0
p.yaxis.minor_tick_in = 0
p.yaxis.major_label_standoff = 8
p.yaxis.major_label_text_font = FONT
p.yaxis.major_label_text_font_size = "11px"
p.yaxis.major_label_text_color = "black"

for name in ["olive", "green", "red", "blue"]:
    pts = series_points[name]
    f = [a for a, b in pts]
    db = [b for a, b in pts]
    p.line(f, db, line_color=series_colors[name], line_width=2)

page = column(header, p, spacing=0)

html = file_html(page, INLINE)
html = html.replace("<body>", '<body style="background-color:#F0F0F0;">', 1)
open("out.html", "w").write(html)
